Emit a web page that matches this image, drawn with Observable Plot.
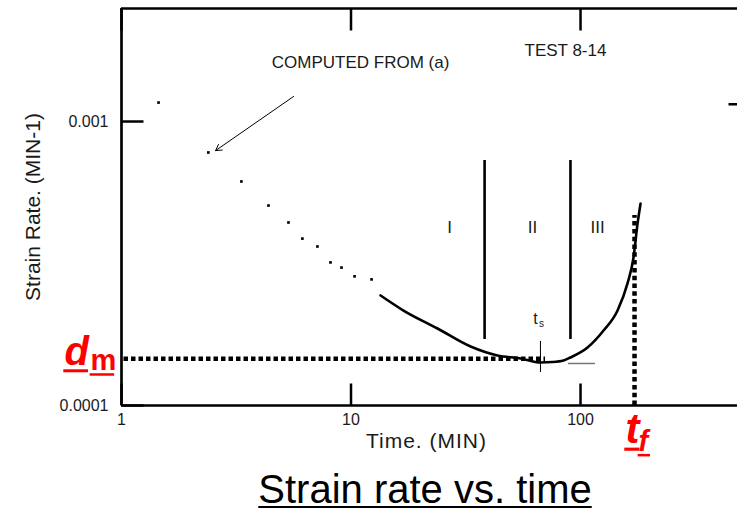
<!DOCTYPE html>
<html><head><meta charset="utf-8">
<script src="https://cdn.jsdelivr.net/npm/d3@7"></script>
<script src="https://cdn.jsdelivr.net/npm/@observablehq/plot@0.6"></script>
<style>
body{margin:0;background:#fff;}
#wrap{position:relative;width:737px;height:510px;overflow:hidden;font-family:"Liberation Sans",Arial,sans-serif;}
#title{position:absolute;left:425px;top:474px;transform:translateX(-50%);font-size:40px;line-height:30px;white-space:nowrap;text-decoration:underline;text-decoration-thickness:2px;text-underline-offset:3px;color:#000;}
</style></head><body>
<div id="wrap"><div id="chart"></div><div id="title">Strain rate vs. time</div></div>
<script>
// ---- data ----
const xDomain = [1, 483];
const yDomain = [1e-4, 2.5e-3];
const xTicks = [1, 10, 100];
const xTickLabels = ["1", "10", "100"];
const yTicks = [1e-3, 1e-4];
const yTickLabels = ["0.001", "0.0001"];
const rightTicks = [1.15e-3];

// computed points (dots)
const dotTime = [1.45, 2.39, 3.33, 4.37, 5.34, 6.14, 7.14, 8.14, 9.09, 10.36, 12.29];
const dotRate = [1.166e-3, 7.78e-4, 6.15e-4, 5.06e-4, 4.41e-4, 3.87e-4, 3.63e-4, 3.19e-4, 3.06e-4, 2.85e-4, 2.78e-4];

// measured curve
const curveTime = [13.45, 16.93, 23.82, 33.2, 43.5, 54.8, 66.9, 75.5, 84.3, 90.4, 107.3, 126, 145, 160.2, 170.2, 177.2, 182.6];
const curveRate = [2.44e-4, 2.16e-4, 1.867e-4, 1.613e-4, 1.50e-4, 1.464e-4, 1.417e-4, 1.422e-4, 1.44e-4, 1.476e-4, 1.60e-4, 1.836e-4, 2.16e-4, 2.69e-4, 3.32e-4, 4.37e-4, 5.14e-4];

// phase boundaries
const phaseBounds = [38.2, 90.4];
const phaseBottom = 1.708e-4;
const phaseTop = 7.29e-4;
const phaseNames = ["I", "II", "III"];
const phaseLabelTime = [26.9, 61.8, 118.6];
const phaseLabelRate = 4.23e-4;

// key values
const dm = 1.46e-4;       // minimum strain rate
const dmEndTime = 70.4;
const tf = 171.9;         // failure time
const tfTopRate = 4.67e-4;
const ts = 66.9;          // t_s
const tsCross = [1.307e-4, 1.68e-4];
const tsLabel = {time: 63.7, rate: 2.02e-4};
const grayLine = {t1: 88.6, t2: 116.3, rate: 1.406e-4};

// annotations
const annotations = [
  {text: "COMPUTED FROM (a)", time: 11.0, rate: 1.614e-3},
  {text: "TEST 8-14", time: 86.0, rate: 1.778e-3}
];
const arrowFrom = {time: 5.62, rate: 1.225e-3};
const arrowTo = {time: 2.57, rate: 7.9e-4};

const dots = dotTime.map((t, i) => ({t, r: dotRate[i]}));
const curve = curveTime.map((t, i) => ({t, r: curveRate[i]}));

const ink = "#1a1a1a";
const red = "#ff0000";
const noHead = 0;

const plot = Plot.plot({
  width: 737,
  height: 462,
  marginLeft: 121,
  marginRight: 0,
  marginTop: 8,
  marginBottom: 57,
  x: {type: "log", domain: xDomain, axis: null},
  y: {type: "log", domain: yDomain, axis: null},
  style: {fontFamily: "'Liberation Sans', Arial, sans-serif", background: "white", overflow: "visible"},
  marks: [
    // frame
    Plot.ruleX([xDomain[0]], {stroke: "#000", strokeWidth: 2.7}),
    Plot.ruleY(yDomain, {stroke: "#000", strokeWidth: 2.7}),
    // inward ticks
    Plot.vector(xTicks, {x: d => d, frameAnchor: "bottom", length: 22, rotate: 0, anchor: "start", r: noHead, stroke: "#000", strokeWidth: 2.5, strokeLinecap: "butt"}),
    Plot.vector(xTicks, {x: d => d, frameAnchor: "top", length: 22, rotate: 180, anchor: "start", r: noHead, stroke: "#000", strokeWidth: 2.5, strokeLinecap: "butt"}),
    Plot.vector(yTicks, {y: d => d, frameAnchor: "left", length: 22, rotate: 90, anchor: "start", r: noHead, stroke: "#000", strokeWidth: 2.5, strokeLinecap: "butt"}),
    Plot.vector(rightTicks, {y: d => d, frameAnchor: "right", length: 9, rotate: 270, anchor: "start", r: noHead, stroke: "#000", strokeWidth: 2.5, strokeLinecap: "butt"}),
    // tick labels
    Plot.text(xTicks, {x: d => d, frameAnchor: "bottom", dy: 19, text: (d, i) => xTickLabels[i], fontSize: 16, fill: ink}),
    Plot.text(yTicks, {y: d => d, frameAnchor: "left", dx: -13, textAnchor: "end", text: (d, i) => yTickLabels[i], fontSize: 16, fill: ink}),
    // axis titles
    Plot.text(["Time. (MIN)"], {frameAnchor: "bottom", dx: -3, dy: 42, fontSize: 21, fill: ink}),
    Plot.text(["Strain Rate. (MIN-1)"], {frameAnchor: "left", textAnchor: "middle", dx: -88, rotate: -90, fontSize: 21, fill: ink}),
    // dotted d_m line and t_f line
    Plot.ruleY([dm], {x1: xDomain[0], x2: dmEndTime, stroke: "#000", strokeWidth: 4.5, strokeDasharray: "4.5,3", strokeDashoffset: -10}),
    Plot.ruleX([tf], {y1: yDomain[0], y2: tfTopRate, stroke: "#000", strokeWidth: 4.5, strokeDasharray: "4.5,3.3"}),
    // phase boundaries
    Plot.ruleX(phaseBounds, {y1: phaseBottom, y2: phaseTop, stroke: "#000", strokeWidth: 2.6}),
    Plot.text(phaseNames, {x: (d, i) => phaseLabelTime[i], y: phaseLabelRate, text: d => d, fontSize: 17, fill: ink}),
    // t_s cross and gray reference line
    Plot.ruleX([ts], {y1: tsCross[0], y2: tsCross[1], stroke: "#000", strokeWidth: 1}),
    Plot.ruleY([grayLine.rate], {x1: grayLine.t1, x2: grayLine.t2, stroke: "#777", strokeWidth: 1.5}),
    Plot.text(["t"], {x: tsLabel.time, y: tsLabel.rate, fontSize: 16, fill: ink}),
    Plot.text(["s"], {x: tsLabel.time, y: tsLabel.rate, dx: 6, dy: 5, fontSize: 10, fill: ink}),
    // data
    Plot.dot(dots, {x: "t", y: "r", symbol: "square", r: 1.5, fill: "#000", stroke: "none"}),
    Plot.line(curve, {x: "t", y: "r", stroke: "#000", strokeWidth: 2.6, curve: "monotone-x"}),
    // annotations
    Plot.text(annotations, {x: "time", y: "rate", text: "text", fontSize: 17, fill: ink}),
    Plot.arrow([0], {x1: arrowFrom.time, y1: arrowFrom.rate, x2: arrowTo.time, y2: arrowTo.rate, stroke: "#000", strokeWidth: 1, headLength: 10}),
    // red labels d_m and t_f
    Plot.text(["d"], {y: dm, frameAnchor: "left", dx: -57, dy: 6, lineAnchor: "bottom", textAnchor: "start", fontSize: 40, fontWeight: "bold", fontStyle: "italic", fill: red}),
    Plot.text(["m"], {y: dm, frameAnchor: "left", dx: -31, dy: 11, lineAnchor: "bottom", textAnchor: "start", fontSize: 29, fontWeight: "bold", fill: red}),
    Plot.text(["t"], {x: tf, frameAnchor: "bottom", dx: -9, dy: 37, lineAnchor: "bottom", textAnchor: "start", fontSize: 42, fontWeight: "bold", fontStyle: "italic", fill: red}),
    Plot.text(["f"], {x: tf, frameAnchor: "bottom", dx: 4, dy: 45, lineAnchor: "bottom", textAnchor: "start", fontSize: 29, fontWeight: "bold", fontStyle: "italic", fill: red})
  ]
});

document.getElementById("chart").appendChild(plot);
const svg = d3.select(plot);
const texts = svg.selectAll("text");
texts.filter(function() { return this.textContent === "Time. (MIN)"; }).style("letter-spacing", "1px");

// underline the red labels (SVG text-decoration is not drawn, so add rects under each glyph)
const redTexts = texts.filter(function() { return getComputedStyle(this).fill === "rgb(255, 0, 0)"; }).nodes();
const rootInv = plot.getScreenCTM().inverse();
redTexts.forEach(node => {
  const fs = parseFloat(getComputedStyle(node).fontSize) || 30;
  const b = node.getBBox();
  const mat = rootInv.multiply(node.getScreenCTM());
  const p = plot.createSVGPoint();
  p.x = b.x; p.y = b.y + b.height * (0.905 / 1.117);
  const tl = p.matrixTransform(mat);
  svg.append("rect")
    .attr("x", tl.x - fs * 0.03)
    .attr("y", tl.y + fs * 0.12)
    .attr("width", b.width * 0.95)
    .attr("height", Math.max(2.5, fs * 0.075))
    .attr("fill", red);
});
</script>
</body></html>
